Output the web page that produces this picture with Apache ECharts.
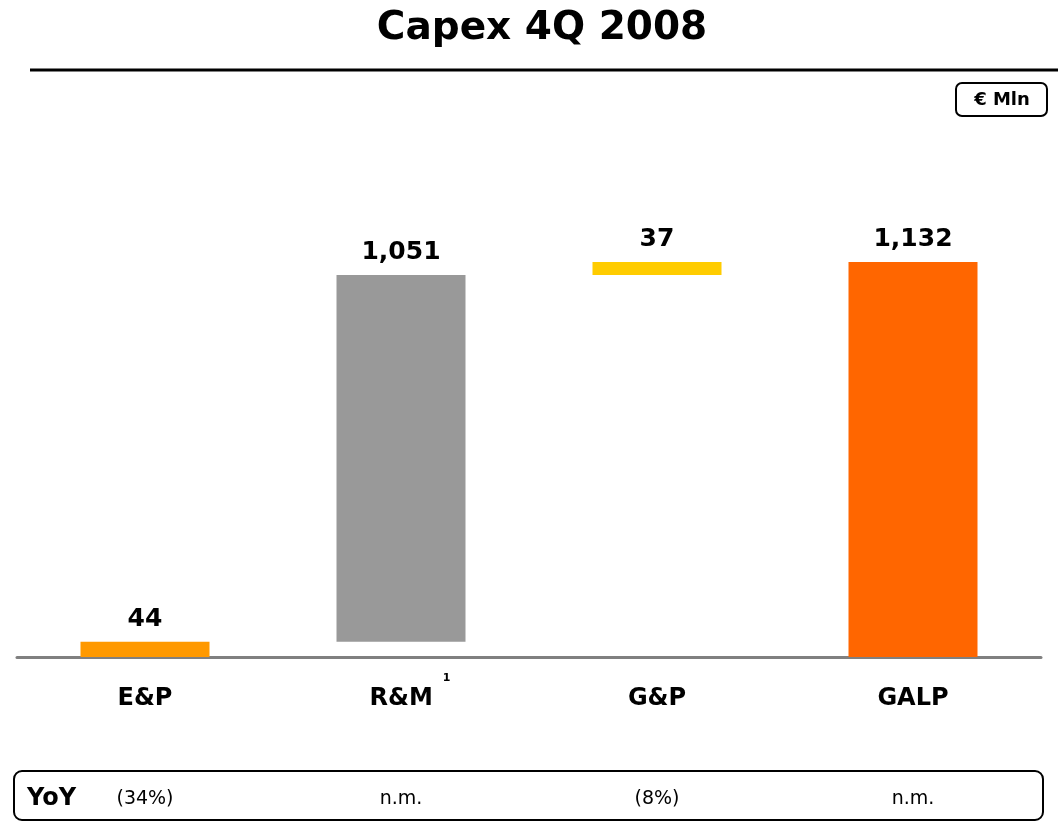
<!DOCTYPE html>
<html>
<head>
<meta charset="utf-8">
<style>
  html, body { margin: 0; padding: 0; background: #ffffff; }
  #chart { width: 1058px; height: 821px; }
</style>
<script src="https://cdn.jsdelivr.net/npm/echarts@6/dist/echarts.min.js"></script>
</head>
<body>
<div id="chart"></div>
<script>
// Capex by segment, € Mln (waterfall: three segments build up to the GALP total)
const categories = ['E&P', 'R&M', 'G&P', 'GALP'];
const values = [44, 1051, 37, 1132];
const isTotal = [false, false, false, true];
const barColors = ['#FF9900', '#999999', '#FFCC00', '#FF6600'];
const yoyLabels = ['(34%)', 'n.m.', '(8%)', 'n.m.'];
const footnoteMarks = ['', '1', '', ''];

// invisible base for each floating bar
const bases = [];
let running = 0;
values.forEach((v, i) => {
  if (isTotal[i]) { bases.push(0); }
  else { bases.push(running); running += v; }
});

const FONT = 'DejaVu Sans';
const fmt = v => v.toLocaleString('en-US');

const chart = echarts.init(document.getElementById('chart'), null, { renderer: 'canvas' });

chart.setOption({
  backgroundColor: '#ffffff',
  animation: false,
  title: {
    text: 'Capex 4Q 2008',
    left: 537,
    textAlign: 'center',
    top: 4,
    textStyle: { fontFamily: FONT, fontSize: 39, fontWeight: 'bold', color: '#000000' }
  },
  grid: { left: 17, right: 17, top: 262, bottom: 164, containLabel: false },
  xAxis: [
    {
      type: 'category',
      data: categories,
      axisLine: { lineStyle: { color: '#808080', width: 3 } },
      axisTick: { show: false },
      axisLabel: {
        margin: 16,
        formatter: (name, i) => footnoteMarks[i]
          ? '{pad|}{c|' + name + '}{sup|' + footnoteMarks[i] + '}'
          : '{c|' + name + '}',
        rich: {
          c: { fontFamily: FONT, fontSize: 24, fontWeight: 'bold', color: '#000000', lineHeight: 52 },
          pad: { width: 18, lineHeight: 52 },
          sup: { fontFamily: FONT, fontSize: 11, fontWeight: 'bold', color: '#000000',
                 lineHeight: 22, verticalAlign: 'top', padding: [0, 0, 0, 10] }
        }
      }
    },
    {
      type: 'category',
      data: yoyLabels,
      position: 'bottom',
      axisLine: { show: false },
      axisTick: { show: false },
      axisLabel: {
        margin: 133,
        fontFamily: FONT, fontSize: 19, color: '#000000'
      }
    }
  ],
  yAxis: { type: 'value', min: 0, max: 1132, show: false },
  series: [
    {
      name: 'base',
      type: 'bar',
      stack: 'capex',
      barWidth: 129,
      itemStyle: { color: 'transparent' },
      emphasis: { disabled: true },
      data: bases
    },
    {
      name: 'Capex',
      type: 'bar',
      stack: 'capex',
      barWidth: 129,
      data: values.map((v, i) => ({ value: v, itemStyle: { color: barColors[i] } })),
      label: {
        show: true,
        position: 'top',
        distance: 10,
        fontFamily: FONT,
        fontSize: 25,
        fontWeight: 'bold',
        color: '#000000',
        formatter: p => fmt(p.value)
      }
    }
  ],
  graphic: [
    // rule under the title
    { type: 'line', shape: { x1: 30, y1: 70, x2: 1058, y2: 70 },
      style: { stroke: '#000000', lineWidth: 3 } },
    // unit badge
    { type: 'rect', shape: { x: 956, y: 83, width: 91, height: 33, r: 6 },
      style: { fill: '#ffffff', stroke: '#000000', lineWidth: 2 } },
    { type: 'text', x: 1002, y: 100,
      style: { text: '€ Mln', fontFamily: FONT, fontSize: 18, fontWeight: 'bold',
               fill: '#000000', align: 'center', verticalAlign: 'middle' } },
    // year-on-year strip
    { type: 'rect', shape: { x: 14, y: 771, width: 1029, height: 49, r: 8 },
      style: { fill: 'transparent', stroke: '#000000', lineWidth: 2 }, z: -1 },
    { type: 'text', x: 27, y: 799,
      style: { text: 'YoY', fontFamily: FONT, fontSize: 24, fontWeight: 'bold',
               fill: '#000000', align: 'left', verticalAlign: 'middle' } }
  ]
});
</script>
</body>
</html>
